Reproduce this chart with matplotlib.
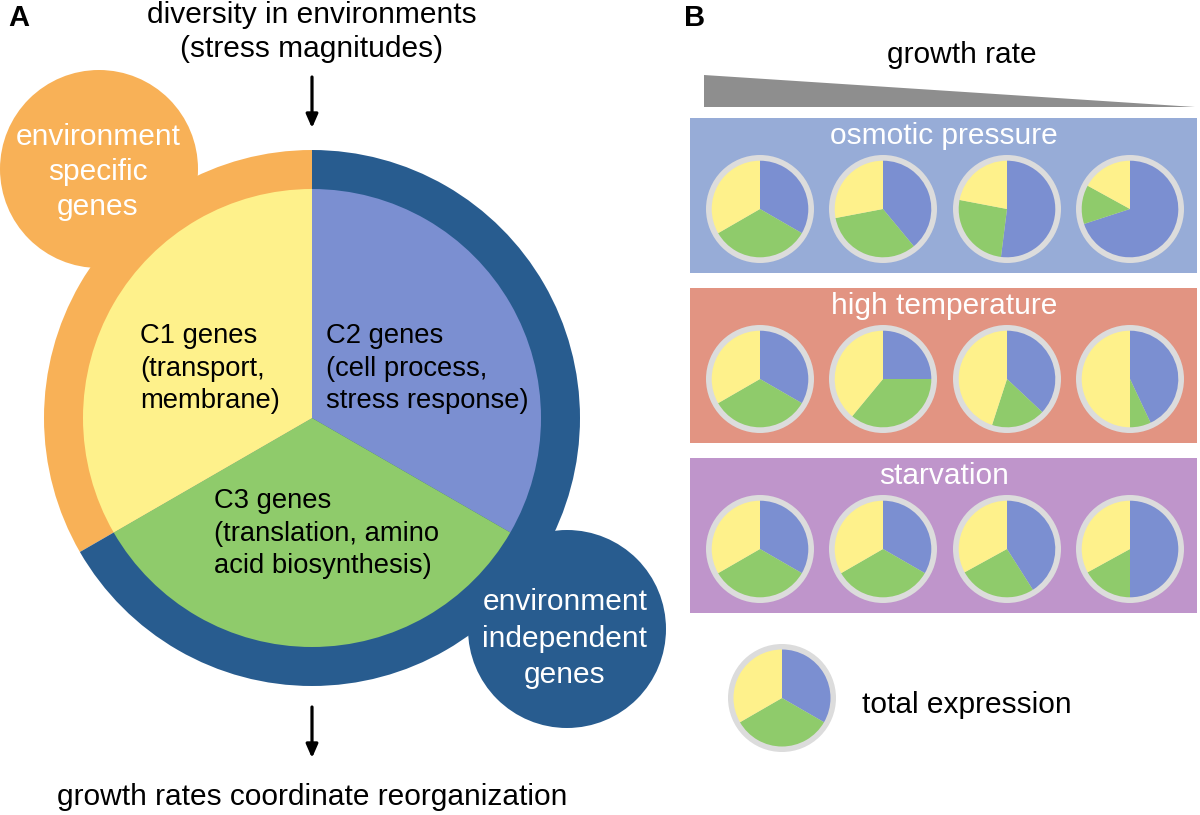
import matplotlib
matplotlib.use("Agg")
import matplotlib.pyplot as plt
from matplotlib.patches import Circle, Rectangle, Polygon

plt.rcParams['font.family'] = ['Liberation Sans', 'DejaVu Sans']

W, H = 1200, 815

# ---- data ----
gene_classes = ["C2 genes", "C3 genes", "C1 genes"]          # clockwise from top
overview_shares = [1, 1, 1]                                    # panel A inner pie
ring_shares = [1, 2]                                           # env-specific, env-independent
environments = ["osmotic pressure", "high temperature", "starvation"]
osmotic_c2 = [0.33, 0.39, 0.52, 0.70]
osmotic_c3 = [0.33, 0.33, 0.26, 0.13]
osmotic_c1 = [0.33, 0.28, 0.22, 0.17]
heat_c2 = [0.33, 0.25, 0.37, 0.43]
heat_c3 = [0.33, 0.36, 0.18, 0.07]
heat_c1 = [0.33, 0.39, 0.45, 0.50]
starv_c2 = [0.33, 0.33, 0.41, 0.50]
starv_c3 = [0.33, 0.33, 0.26, 0.17]
starv_c1 = [0.33, 0.33, 0.33, 0.33]
legend_shares = [1, 1, 1]

# ---- styles ----
C_BLUE = "#7b8fd1"
C_GREEN = "#8fcb6b"
C_YELLOW = "#fef18b"
C_ORANGE = "#f8b157"
C_DARK = "#285c8f"
C_GREY = "#dcdcdc"
BOX_COLORS = ["#97acd7", "#e29482", "#bf95cb"]
FS = 21.5
FS_C = 19.7

fig = plt.figure(figsize=(W / 100, H / 100), dpi=100)
ax = fig.add_axes([0, 0, 1, 1])


def Y(y):
    return H - y


# ---- Panel A ----
ax.add_patch(Circle((99, Y(169)), 99, color=C_ORANGE, lw=0, zorder=1))
ax.add_patch(Circle((567, Y(629)), 99, color=C_DARK, lw=0, zorder=1))

ring = ax.pie(ring_shares, colors=[C_ORANGE, C_DARK], startangle=90,
              counterclock=True, center=(312, Y(418)), radius=268,
              wedgeprops=dict(linewidth=0), frame=True)
for w in ring[0]:
    w.set_zorder(2)
inner = ax.pie(overview_shares, colors=[C_BLUE, C_GREEN, C_YELLOW], startangle=90,
               counterclock=False, center=(312, Y(418)), radius=229,
               wedgeprops=dict(linewidth=0), frame=True)
for w in inner[0]:
    w.set_zorder(3)

def lines(x, baselines, texts, ha='center', color='black', fs=FS, **kw):
    for yb, t in zip(baselines, texts):
        ax.text(x, Y(yb), t, ha=ha, va='baseline', color=color, fontsize=fs, zorder=5, **kw)

lines(312, [23, 57], ["diversity in environments", "(stress magnitudes)"])
lines(98, [145, 180, 215], ["environment", "specific", "genes"], color='white')
lines(140, [343, 376, 408], ["C1 genes", "(transport,", "membrane)"], ha='left', fs=FS_C)
lines(326, [343, 376, 408], ["C2 genes", "(cell process,", "stress response)"], ha='left', fs=FS_C)
lines(214, [508, 541, 573], ["C3 genes", "(translation, amino", "acid biosynthesis)"], ha='left', fs=FS_C)
lines(565, [610, 647, 683], ["environment", "independent", "genes"], color='white')
lines(312, [805], ["growth rates coordinate reorganization"])

for y0, y1 in [(77, 128), (707, 758)]:
    ax.annotate('', xy=(312, Y(y1)), xytext=(312, Y(y0)),
                arrowprops=dict(arrowstyle='-|>,head_length=0.8,head_width=0.35',
                                lw=2.3, color='black', shrinkA=0, shrinkB=0),
                zorder=5)

ax.text(8, Y(26), "A", fontsize=21, fontweight='bold', ha='left', va='baseline')
ax.text(684, Y(26), "B", fontsize=21, fontweight='bold', ha='left', va='baseline')

# ---- Panel B ----
lines(962, [63], ["growth rate"])
ax.add_patch(Polygon([(704, Y(75)), (704, Y(107)), (1195, Y(107))],
                     closed=True, color="#8e8e8e", lw=0))

env_data = [(osmotic_c2, osmotic_c3, osmotic_c1),
            (heat_c2, heat_c3, heat_c1),
            (starv_c2, starv_c3, starv_c1)]
box_tops = [118, 288, 458]
pie_x = [760, 883, 1007, 1130]
for k, (name, (c2, c3, c1)) in enumerate(zip(environments, env_data)):
    top = box_tops[k]
    ax.add_patch(Rectangle((690, Y(top + 155)), 507, 155, color=BOX_COLORS[k], lw=0, zorder=1))
    lines(944, [top + 26], [name], color='white')
    cy = top + 91
    for i, px in enumerate(pie_x):
        ax.add_patch(Circle((px, Y(cy)), 54, color=C_GREY, lw=0, zorder=2))
        wd = ax.pie([c2[i], c3[i], c1[i]], colors=[C_BLUE, C_GREEN, C_YELLOW],
                    startangle=90, counterclock=False, center=(px, Y(cy)), radius=48.3,
                    wedgeprops=dict(linewidth=0), frame=True)
        for w in wd[0]:
            w.set_zorder(3)

ax.add_patch(Circle((782, Y(698)), 54, color=C_GREY, lw=0, zorder=2))
wd = ax.pie(legend_shares, colors=[C_BLUE, C_GREEN, C_YELLOW], startangle=90,
            counterclock=False, center=(782, Y(698)), radius=48.5,
            wedgeprops=dict(linewidth=0), frame=True)
for w in wd[0]:
    w.set_zorder(3)
lines(862, [713], ["total expression"], ha='left')

ax.set_xlim(0, W)
ax.set_ylim(0, H)
ax.set_aspect('auto')
ax.axis('off')
fig.savefig("out.png", dpi=100)
